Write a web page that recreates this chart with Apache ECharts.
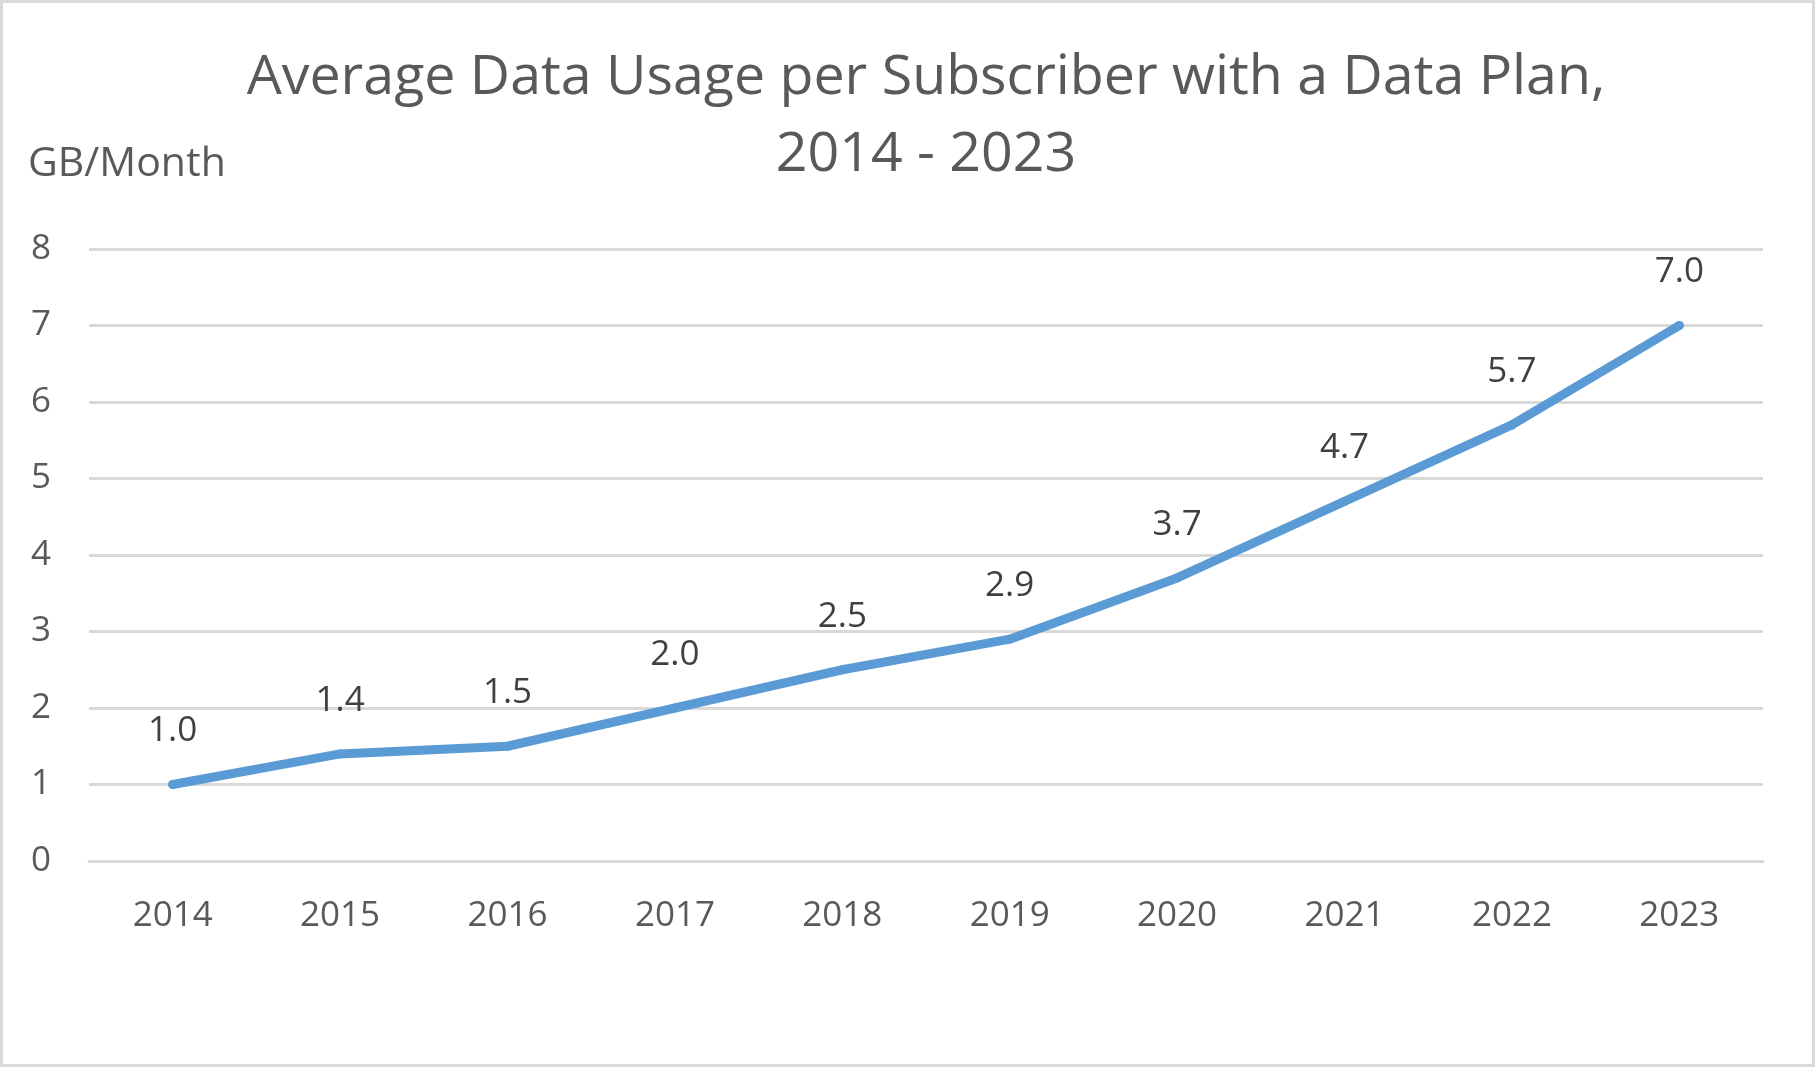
<!DOCTYPE html>
<html>
<head>
<meta charset="utf-8">
<script src="https://cdn.jsdelivr.net/npm/echarts@6/dist/echarts.min.js"></script>
<style>
html,body{margin:0;padding:0;background:#fff;}
#main{width:1815px;height:1067px;}
</style>
</head>
<body>
<div id="main"></div>
<script>
const titleText = 'Average Data Usage per Subscriber with a Data Plan,\n2014 - 2023';
const yAxisTitle = 'GB/Month';
const categories = ['2014','2015','2016','2017','2018','2019','2020','2021','2022','2023'];
const usage = [1.0, 1.4, 1.5, 2.0, 2.5, 2.9, 3.7, 4.7, 5.7, 7.0];
const yMin = 0, yMax = 8, yStep = 1;

const FONT = '"Open Sans", sans-serif';
const chart = echarts.init(document.getElementById('main'), null, {renderer: 'canvas'});
chart.setOption({
  backgroundColor: '#ffffff',
  animation: false,
  grid: {left: 89, right: 52, top: 249, bottom: 206, containLabel: false},
  xAxis: {
    type: 'category',
    data: categories,
    boundaryGap: true,
    axisLine: {show: true, lineStyle: {color: '#d9d9d9', width: 3}},
    axisTick: {show: false},
    axisLabel: {fontFamily: FONT, fontSize: 35, color: '#595959', margin: 38}
  },
  yAxis: {
    type: 'value',
    min: yMin, max: yMax, interval: yStep,
    axisLine: {show: false},
    axisTick: {show: false},
    splitLine: {show: true, lineStyle: {color: '#d9d9d9', width: 3}},
    axisLabel: {fontFamily: FONT, fontSize: 35, color: '#595959', margin: 38}
  },
  graphic: [
    {type: 'rect', shape: {x: 1.5, y: 1.5, width: 1812, height: 1064}, style: {fill: 'none', stroke: '#d9d9d9', lineWidth: 3}, silent: true},
    {type: 'text', x: 926, y: 40, style: {text: titleText, font: '55.5px "Open Sans", sans-serif', fill: '#595959', align: 'center', verticalAlign: 'top', lineHeight: 77}},
    {type: 'text', x: 28, y: 164, style: {text: yAxisTitle, font: '41px "Open Sans", sans-serif', fill: '#595959', verticalAlign: 'middle', align: 'left'}}
  ],
  series: [{
    type: 'line',
    data: usage,
    symbol: 'circle',
    symbolSize: 9,
    showSymbol: true,
    lineStyle: {color: '#5b9bd5', width: 9, cap: 'round', join: 'round'},
    itemStyle: {color: '#5b9bd5', borderWidth: 0},
    label: {
      show: true, position: 'top', distance: 31,
      fontFamily: FONT, fontSize: 35, color: '#404040',
      formatter: p => p.value.toFixed(1)
    }
  }]
});
</script>
</body>
</html>
